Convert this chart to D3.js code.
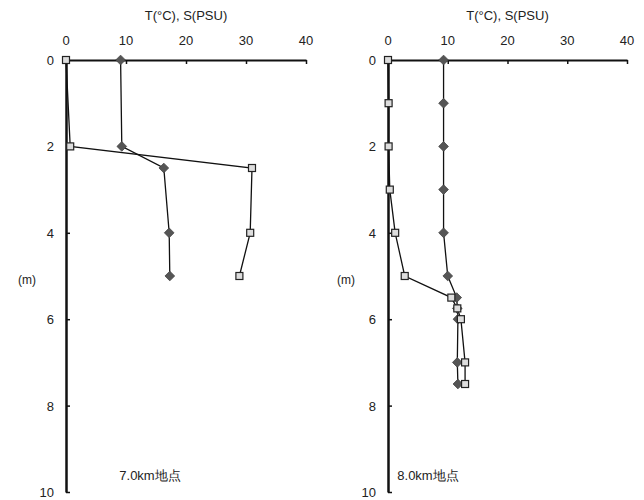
<!DOCTYPE html>
<html>
<head>
<meta charset="utf-8">
<script src="https://cdn.jsdelivr.net/npm/d3@7"></script>
<style>
  body { margin: 0; background: #fff; }
  text { font-family: "Liberation Sans Narrow", "Liberation Sans", Arial, sans-serif; fill: #222; }
</style>
</head>
<body>
<svg width="644" height="500"></svg>
<script>
// depth (m) and temperature / salinity at each station
const depth7 = [0, 2, 2.5, 4, 5];
const temp7 = [9.1, 9.3, 16.3, 17.2, 17.3];
const depth7s = [0, 2, 2.5, 4, 5];
const sal7 = [0, 0.7, 31.0, 30.7, 28.9];

const depth8 = [0, 1, 2, 3, 4, 5, 5.5, 5.75, 6, 7, 7.5];
const temp8 = [9.3, 9.3, 9.3, 9.3, 9.3, 10.0, 11.5, 11.6, 11.7, 11.6, 11.7];
const depth8s = [0, 1, 2, 3, 4, 5, 5.5, 5.75, 6, 7, 7.5];
const sal8 = [0, 0.1, 0.1, 0.3, 1.2, 2.8, 10.6, 11.6, 12.2, 12.9, 12.9];

const xTicks = [0, 10, 20, 30, 40];
const yTicks = [0, 2, 4, 6, 8, 10];
const xTitle = "T(\u00b0C), S(PSU)";
const yTitle = "(m)";

const panels = [
    { x0: 66, x1: 306, label: "7.0km地点", labelX: 150, temp: temp7, tDepth: depth7, sal: sal7, sDepth: depth7s, yTitleX: 27 },
    { x0: 388, x1: 627, label: "8.0km地点", labelX: 428, temp: temp8, tDepth: depth8, sal: sal8, sDepth: depth8s, yTitleX: 346 }
];

const svg = d3.select("svg");
const plotTop = 60, plotBottom = 492;

panels.forEach(p => {
    const x = d3.scaleLinear().domain([0, 40]).range([p.x0, p.x1]);
    const y = d3.scaleLinear().domain([0, 10]).range([plotTop, plotBottom]);
    const g = svg.append("g");

    // top axis
    const xa = g.append("g")
        .attr("transform", `translate(0,${plotTop})`)
        .call(d3.axisBottom(x).tickValues(xTicks).tickSize(4).tickSizeOuter(0).tickFormat(""));
    xa.select(".domain").attr("stroke", "#111").attr("stroke-width", 2);
    xa.selectAll(".tick line").attr("stroke", "#111").attr("stroke-width", 1.5);

    g.selectAll(".xlab").data(xTicks).enter().append("text")
        .attr("x", d => x(d)).attr("y", 45)
        .attr("text-anchor", "middle").attr("font-size", 13)
        .text(d => d);

    g.append("text")
        .attr("x", (p.x0 + p.x1) / 2).attr("y", 20)
        .attr("text-anchor", "middle").attr("font-size", 13)
        .text(xTitle);

    // left axis
    const ya = g.append("g")
        .attr("transform", `translate(${p.x0},0)`)
        .call(d3.axisRight(y).tickValues(yTicks).tickSize(4).tickSizeOuter(0).tickFormat(""));
    ya.select(".domain").attr("stroke", "#111").attr("stroke-width", 2.5);
    ya.selectAll(".tick line").attr("stroke", "#111").attr("stroke-width", 1.5);

    g.selectAll(".ylab").data(yTicks).enter().append("text")
        .attr("x", p.x0 - 12).attr("y", d => y(d) + 5)
        .attr("text-anchor", "end").attr("font-size", 13)
        .text(d => d);

    g.append("text")
        .attr("x", p.yTitleX).attr("y", 284)
        .attr("text-anchor", "middle").attr("font-size", 12)
        .text(yTitle);

    g.append("text")
        .attr("x", p.labelX).attr("y", 480)
        .attr("text-anchor", "middle").attr("font-size", 13)
        .text(p.label);

    const line = d3.line().x(d => x(d[0])).y(d => y(d[1]));
    const tPts = p.temp.map((v, i) => [v, p.tDepth[i]]);
    const sPts = p.sal.map((v, i) => [v, p.sDepth[i]]);

    g.append("path").datum(sPts).attr("d", line)
        .attr("fill", "none").attr("stroke", "#111").attr("stroke-width", 1.3);
    g.append("path").datum(tPts).attr("d", line)
        .attr("fill", "none").attr("stroke", "#111").attr("stroke-width", 1.3);

    g.selectAll(".tm").data(tPts).enter().append("path")
        .attr("d", d3.symbol().type(d3.symbolDiamond2).size(60))
        .attr("transform", d => `translate(${x(d[0])},${y(d[1])})`)
        .attr("fill", "#555").attr("stroke", "#444").attr("stroke-width", 0.8);

    g.selectAll(".sm").data(sPts).enter().append("rect")
        .attr("x", d => x(d[0]) - 3.5).attr("y", d => y(d[1]) - 3.5)
        .attr("width", 7).attr("height", 7)
        .attr("fill", "#ddd").attr("stroke", "#222").attr("stroke-width", 1.2);
});
</script>
</body>
</html>
